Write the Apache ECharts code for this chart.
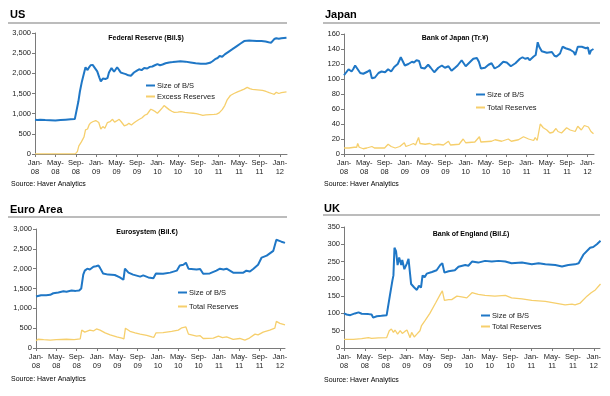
<!DOCTYPE html>
<html>
<head>
<meta charset="utf-8">
<script src="https://cdn.jsdelivr.net/npm/echarts@6/dist/echarts.min.js"></script>
<style>
  html, body { margin: 0; padding: 0; background: #fff; }
  #chart { width: 610px; height: 396px; }
</style>
</head>
<body>
<div id="chart"></div>
<script>
// x values are months since Jan-08
const xTickLabels = ['Jan-\n08', 'May-\n08', 'Sep-\n08', 'Jan-\n09', 'May-\n09', 'Sep-\n09',
  'Jan-\n10', 'May-\n10', 'Sep-\n10', 'Jan-\n11', 'May-\n11', 'Sep-\n11', 'Jan-\n12'];

const usSize = [[0,850],[0.5,845],[1,850],[2,840],[3,835],[4,830],[5,840],[6,850],[7,860],[7.8,865],[8.1,880],[8.5,1300],[8.8,1550],[9.2,1800],[9.6,2000],[9.9,2150],[10.3,2080],[10.6,2150],[10.9,2200],[11.3,2210],[11.6,2190],[12.2,2050],[12.6,1900],[12.9,1800],[13.3,1870],[13.8,1860],[14.2,1880],[14.5,2020],[15.0,2130],[15.2,2150],[15.5,2040],[15.8,2080],[16.1,2150],[16.5,2080],[16.8,2020],[17.3,2000],[17.8,1980],[18.3,1950],[18.8,1940],[19.4,2020],[19.9,2060],[20.4,2100],[20.9,2080],[21.4,2130],[22,2120],[22.5,2160],[23,2170],[23.5,2200],[24,2230],[24.5,2200],[25,2220],[25.6,2250],[26.3,2270],[27,2280],[27.6,2290],[28.5,2300],[29.5,2290],[30.5,2270],[31.5,2250],[32.5,2240],[33.5,2240],[34.3,2260],[34.8,2300],[35.3,2350],[35.8,2380],[36.2,2430],[36.7,2410],[37.2,2470],[38,2540],[38.7,2600],[39.5,2670],[40.3,2740],[41,2800],[41.3,2825],[42,2815],[42.6,2810],[43.5,2800],[44.4,2800],[45.2,2790],[45.8,2770],[46.3,2760],[46.6,2750],[46.9,2850],[47.3,2870],[47.8,2860],[48.3,2870],[48.8,2875],[49.3,2880]];
const usExcess = [[0,2],[7.9,2],[8.3,60],[8.6,200],[9,280],[9.3,350],[9.6,420],[9.9,600],[10.3,620],[10.6,720],[10.9,770],[11.3,800],[11.9,830],[12.5,780],[12.9,620],[13.3,680],[13.7,640],[14.2,780],[14.7,800],[15.2,860],[15.6,790],[16,820],[16.5,860],[16.9,800],[17.5,700],[18,720],[18.4,760],[18.9,720],[19.3,760],[19.7,800],[20.3,850],[21,900],[21.5,960],[22,990],[22.4,1060],[22.7,1110],[23.2,1080],[23.6,1050],[24,1010],[24.5,1080],[25,1150],[25.3,1200],[25.8,1150],[26.3,1100],[26.8,1060],[27.3,1030],[28,1040],[28.6,1050],[29.4,1030],[30.2,1020],[31,1010],[31.6,1000],[32.2,980],[32.9,960],[33.5,970],[34.3,975],[35.1,980],[35.6,990],[36.1,1020],[36.7,1100],[37.2,1200],[37.7,1350],[38.3,1450],[39,1500],[39.7,1540],[40.3,1570],[41,1610],[41.6,1650],[42.1,1620],[42.6,1600],[43.6,1590],[44.6,1580],[45.3,1550],[45.9,1520],[46.4,1500],[46.9,1480],[47.3,1530],[47.8,1500],[48.3,1520],[49.3,1540]];

const jpSize = [[0,105],[0.9,113],[1.2,115],[1.5,110],[1.8,113],[2.2,118],[2.8,112],[3.2,108],[3.8,107],[4.1,105],[4.7,110],[5.1,112],[5.5,101],[6.1,102],[6.8,108],[7.4,110],[8.1,109],[8.7,113],[9.3,110],[9.9,116],[10.6,120],[11.2,129],[11.5,127],[12,118],[12.7,120],[13.4,123],[13.8,122],[14.3,125],[14.8,124],[15.2,115],[15.9,114],[16.6,119],[17.1,115],[17.8,109],[18.6,115],[19.3,118],[19.9,115],[20.6,117],[21.2,111],[21.9,115],[22.4,118],[23.2,125],[24,117],[24.9,123],[25.5,127],[26.2,128],[26.6,123],[27,114],[27.8,115],[28.5,119],[29.1,121],[29.7,114],[30.5,117],[31.4,123],[32.1,122],[32.9,117],[33.8,121],[34.7,127],[35.2,129],[35.7,127],[36.3,128],[36.6,125],[37.4,130],[37.8,132],[38.2,149],[38.5,143],[39,137],[40,135],[41,136],[41.5,131],[41.9,130],[42.6,134],[43.1,143],[43.7,141],[44.6,139],[45.3,136],[45.6,132],[46.1,143],[46.9,143],[47.2,145],[47.7,141],[48.1,142],[48.4,133],[48.7,138],[49.2,140]];
const jpReserves = [[0,8],[1,8],[2,9],[2.5,9],[2.7,14],[3,9],[3.8,7],[4.5,8],[5.5,10],[6,8],[7,8],[8,8],[8.7,13],[9.3,10],[10.1,8],[11,10],[11.9,15],[12.2,10],[13,12],[13.7,14],[14.1,12],[14.7,22],[15,14],[16,13],[16.9,14],[17.6,12],[18.6,13],[19.6,12],[20.6,17],[21,12],[22.7,13],[23.5,20],[24,15],[25.8,16],[26.7,23],[27,16],[29.1,17],[29.8,19],[31.1,17],[32.4,20],[33,17],[34.4,19],[35.4,23],[36.4,20],[37.4,18],[37.7,22],[38.1,18],[38.7,40],[39.3,35],[40,32],[40.6,28],[41.2,29],[41.8,34],[42.2,30],[42.9,28],[43.9,35],[44.6,32],[45.6,30],[46.1,37],[46.8,32],[47.1,30],[47.4,38],[48.2,36],[48.7,30],[49.2,27]];

const euSize = [[0,1300],[0.3,1340],[1,1330],[2,1330],[2.8,1340],[3.4,1380],[4.4,1400],[5.4,1430],[6,1420],[7,1450],[7.8,1440],[8.5,1450],[8.9,1500],[9.3,1850],[9.6,1950],[10.1,2000],[10.6,1980],[11.3,2050],[11.8,2060],[12.3,2080],[12.6,2020],[13.2,1880],[14.2,1850],[15.5,1840],[16.5,1780],[17.2,1720],[17.5,2000],[18.2,1900],[19.1,1850],[20.5,1800],[21.1,1830],[22.1,1780],[23.1,1760],[23.6,1880],[25,1870],[26.4,1900],[27.7,1950],[28.3,2080],[29,2100],[29.5,2150],[30,2000],[31.6,1980],[32.3,1990],[32.9,1870],[34.2,1880],[35.5,1950],[36.2,2000],[36.9,1980],[37.5,2000],[38.8,1900],[40.8,1900],[41.4,1950],[42.1,1930],[42.8,2000],[43.7,2100],[44.4,2280],[45.4,2330],[46.7,2450],[47,2500],[47.3,2730],[47.9,2700],[48.3,2680],[49,2650]];
const euReserves = [[0,180],[0.4,220],[1.5,210],[2.8,200],[4,210],[6,220],[7.5,210],[8.7,230],[9,450],[9.6,400],[10.6,450],[11.3,430],[11.9,480],[12.6,450],[13.6,380],[14.6,330],[15.9,280],[16.9,250],[17.3,230],[17.6,500],[18.5,420],[19.5,380],[20.5,350],[21.8,320],[22.8,280],[23.2,270],[23.6,380],[25,390],[26.7,420],[28,450],[28.7,510],[29.5,530],[30,350],[31.6,300],[32.3,310],[32.9,240],[34.9,250],[35.9,300],[36.7,260],[37.5,280],[38.8,220],[40.1,240],[41.1,200],[42,250],[43.1,350],[43.7,330],[44.7,400],[46,450],[47,500],[47.3,670],[48,620],[49,580]];

const ukSize = [[0,100],[0.5,97],[1.2,95],[2.1,100],[2.8,103],[3.4,99],[4.7,98],[5,95],[5.3,97],[5.6,88],[6.3,92],[7.2,93],[8.2,95],[8.5,97],[8.8,150],[9.3,195],[9.5,210],[9.7,290],[10,280],[10.3,240],[10.6,262],[11,240],[11.2,255],[11.6,228],[12.1,245],[12.4,258],[12.9,185],[13.5,175],[14,168],[14.4,180],[14.8,175],[15.1,210],[15.5,205],[15.9,215],[16.9,220],[17.8,225],[18.5,240],[18.9,245],[19.3,218],[20.1,222],[21.3,225],[22,235],[23.3,240],[23.9,238],[24.6,250],[25.8,247],[27.1,252],[28.4,250],[29.7,252],[31,250],[32.2,245],[34.2,247],[36.1,242],[37.4,245],[38.7,242],[40.6,240],[41.9,236],[43.1,240],[44.4,242],[45.1,245],[46,270],[47.3,290],[47.9,292],[48.6,300],[49.3,310]];
const ukReserves = [[0,25],[1.8,25],[2.1,28],[3.4,27],[4.7,30],[5.3,28],[6.6,29],[8.2,30],[8.4,32],[8.7,50],[9.1,55],[9.5,45],[9.8,52],[10.3,40],[10.8,50],[11.2,42],[11.7,48],[12.1,52],[12.7,30],[13,45],[13.5,32],[14,40],[14.3,35],[14.6,50],[14.9,65],[15.6,80],[16.5,100],[17.6,130],[18.5,155],[18.9,165],[19.3,138],[20.1,140],[20.7,140],[21.7,150],[22.6,148],[23.6,145],[24.6,160],[25.8,155],[27.1,152],[29,150],[31,152],[32.2,145],[34.2,142],[36.1,138],[38.7,135],[40.6,130],[42.5,125],[43.8,127],[44.4,125],[45.4,130],[46.7,150],[47.5,160],[48.3,168],[49.3,185]];

const BLUE = '#1f77c6';
const YELLOW = '#f6cf6c';
const FONT = "'Liberation Sans', Arial, sans-serif";

const chart = echarts.init(document.getElementById('chart'));

function xAxis(idx, max) {
  return {
    gridIndex: idx, type: 'value', min: 0, max: max, interval: 4,
    axisLine: { lineStyle: { color: '#7a7a7a', width: 1 } },
    axisTick: { length: 3, lineStyle: { color: '#7a7a7a' } },
    splitLine: { show: false },
    axisLabel: {
      fontFamily: FONT, fontSize: 7.5, lineHeight: 8.5, color: '#222', margin: 5,
      showMaxLabel: false,
      formatter: function (v) {
        return v % 4 === 0 ? xTickLabels[v / 4] : '';
      }
    }
  };
}
function yAxis(idx, max, interval) {
  return {
    gridIndex: idx, type: 'value', min: 0, max: max, interval: interval,
    axisLine: { show: true, lineStyle: { color: '#7a7a7a', width: 1 } },
    axisTick: { show: true, length: 3, lineStyle: { color: '#7a7a7a' } },
    splitLine: { show: false },
    axisLabel: {
      fontFamily: FONT, fontSize: 7.5, color: '#222', margin: 4,
      formatter: function (v) { return v.toLocaleString('en-US'); }
    }
  };
}
function line(name, data, idx, color, width, z) {
  return {
    name: name, type: 'line', xAxisIndex: idx, yAxisIndex: idx, data: data,
    showSymbol: false, symbol: 'none', animation: false, z: z,
    lineStyle: { color: color, width: width }, itemStyle: { color: color }
  };
}
function legend(names, left, top, gap) {
  return {
    data: names, left: left, top: top, orient: 'vertical', itemGap: gap,
    icon: 'rect', itemWidth: 9, itemHeight: 2, selectedMode: false,
    textStyle: { fontFamily: FONT, fontSize: 7.5, color: '#222', lineHeight: 9, padding: [0, 0, 0, -3] },
    padding: 0
  };
}
function text(x, y, str, size, bold, align) {
  return {
    type: 'text', x: x, y: y,
    style: {
      text: str, fill: '#000', font: (bold ? 'bold ' : '') + size + 'px ' + FONT,
      textAlign: align || 'left', textVerticalAlign: 'middle'
    }
  };
}
function rule(x1, x2, y) {
  return { type: 'line', shape: { x1: x1, y1: y, x2: x2, y2: y }, style: { stroke: '#a6a6a6', lineWidth: 1.5 } };
}

chart.setOption({
  animation: false,
  grid: [
    { left: 35, top: 33, width: 252, height: 121 },
    { left: 344, top: 34, width: 250, height: 120 },
    { left: 36, top: 229, width: 249, height: 119 },
    { left: 344, top: 227, width: 256, height: 121 }
  ],
  xAxis: [xAxis(0, 49.4), xAxis(1, 49.3), xAxis(2, 49), xAxis(3, 49.2)],
  yAxis: [yAxis(0, 3000, 500), yAxis(1, 160, 20), yAxis(2, 3000, 500), yAxis(3, 350, 50)],
  legend: [
    legend(['Size of B/S', 'Excess Reserves'], 146, 81, 2),
    legend(['Size of B/S', 'Total Reserves'], 476, 90, 4),
    legend(['Size of B/S', 'Total Reserves'], 178, 288, 5),
    legend(['Size of B/S', 'Total Reserves'], 481, 311, 2)
  ],
  series: [
    line('Excess Reserves', usExcess, 0, YELLOW, 1.3, 2),
    line('Size of B/S', usSize, 0, BLUE, 2, 3),
    line('Total Reserves', jpReserves, 1, YELLOW, 1.3, 2),
    line('Size of B/S', jpSize, 1, BLUE, 2, 3),
    line('Total Reserves', euReserves, 2, YELLOW, 1.3, 2),
    line('Size of B/S', euSize, 2, BLUE, 2, 3),
    line('Total Reserves', ukReserves, 3, YELLOW, 1.3, 2),
    line('Size of B/S', ukSize, 3, BLUE, 2, 3)
  ],
  graphic: [
    text(10, 15, 'US', 11, true),
    text(325, 15, 'Japan', 11, true),
    text(10, 210, 'Euro Area', 11, true),
    text(324, 209, 'UK', 11, true),
    rule(8, 287, 23), rule(323, 600, 23), rule(8, 287, 217), rule(323, 600, 215),
    text(146, 38, 'Federal Reserve (Bil.$)', 7, true, 'center'),
    text(455, 38, 'Bank of Japan (Tr.¥)', 7, true, 'center'),
    text(147, 232, 'Eurosystem (Bil.€)', 7, true, 'center'),
    text(471, 234, 'Bank of England (Bil.£)', 7, true, 'center'),
    text(11, 184, 'Source: Haver Analytics', 7, false),
    text(324, 184, 'Source: Haver Analytics', 7, false),
    text(11, 379, 'Source: Haver Analytics', 7, false),
    text(324, 380, 'Source: Haver Analytics', 7, false)
  ]
});
</script>
</body>
</html>
